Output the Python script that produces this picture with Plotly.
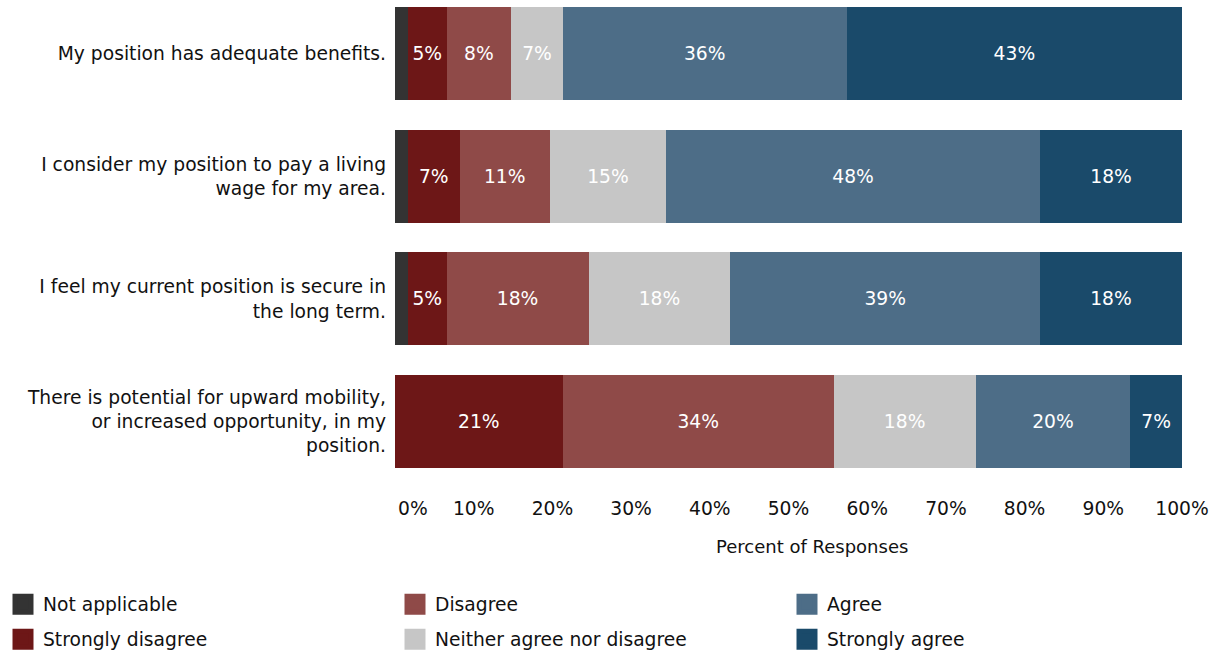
import plotly.graph_objects as go

# Survey statements (one bar each) and response shares in percent
statements = [
    "My position has adequate benefits.",
    "I consider my position to pay a living<br>wage for my area.",
    "I feel my current position is secure in<br>the long term.",
    "There is potential for upward mobility,<br>or increased opportunity, in my<br>position.",
]
not_applicable = [1.64, 1.64, 1.64, 0.0]
strongly_disagree = [4.92, 6.56, 4.92, 21.31]
disagree = [8.20, 11.48, 18.03, 34.43]
neither = [6.56, 14.75, 18.03, 18.03]
agree = [36.07, 47.54, 39.34, 19.67]
strongly_agree = [42.62, 18.03, 18.03, 6.56]

x_tick_vals = [0, 10, 20, 30, 40, 50, 60, 70, 80, 90, 100]
x_tick_text = ["\u00a0\u00a0\u00a0\u00a0\u00a0\u00a00%", "10%", "20%", "30%", "40%", "50%",
               "60%", "70%", "80%", "90%", "100%"]

FONT = "DejaVu Sans, sans-serif"
TEXT_COLOR = "#111111"
FS = 18.7

# name, values, colour, value labels shown, legend column, legend row
series = [
    ("Not applicable", not_applicable, "#333333", False, 0, 0),
    ("Strongly disagree", strongly_disagree, "#6d1717", True, 0, 1),
    ("Disagree", disagree, "#8f4a48", True, 1, 0),
    ("Neither agree nor disagree", neither, "#c6c6c6", True, 1, 1),
    ("Agree", agree, "#4d6d87", True, 2, 0),
    ("Strongly agree", strongly_agree, "#1a4a6a", True, 2, 1),
]

positions = list(range(len(statements)))

fig = go.Figure()
for name, values, color, labelled, _, _ in series:
    fig.add_trace(go.Bar(
        name=name,
        y=positions,
        x=values,
        orientation="h",
        marker=dict(color=color, line=dict(width=0)),
        texttemplate="%{x:.0f}%" if labelled else "",
        textposition="inside",
        insidetextanchor="middle",
        textangle=0,
        constraintext="none",
        textfont=dict(color="white", size=FS, family=FONT),
        showlegend=False,
        hoverinfo="skip",
    ))

# Legend: one small legend per entry, laid out in three columns and two rows
col_x = [3, 395, 787]
row_y = [604.5, 639.5]
legend_layouts = {}
for i, (name, _, color, _, col, row) in enumerate(series):
    legend_id = "legend" if i == 0 else f"legend{i + 1}"
    fig.add_trace(go.Scatter(
        name=name,
        x=[None],
        y=[None],
        mode="markers",
        marker=dict(symbol="square", size=16, color=color,
                    line=dict(color=color, width=5)),
        legend=legend_id,
        showlegend=True,
        hoverinfo="skip",
    ))
    legend_layouts[legend_id] = dict(
        orientation="h",
        xref="container",
        yref="container",
        x=col_x[col] / 1219,
        y=1 - row_y[row] / 658,
        xanchor="left",
        yanchor="middle",
        itemsizing="trace",
        font=dict(family=FONT, size=FS, color=TEXT_COLOR),
        bgcolor="rgba(0,0,0,0)",
        borderwidth=0,
    )

fig.update_layout(
    width=1219,
    height=658,
    barmode="stack",
    bargap=0.242,
    plot_bgcolor="white",
    paper_bgcolor="white",
    font=dict(family=FONT, size=FS, color=TEXT_COLOR),
    margin=dict(l=395, r=37, t=7, b=168),
    xaxis=dict(
        range=[0, 100],
        tickvals=x_tick_vals,
        ticktext=x_tick_text,
        showgrid=False,
        zeroline=False,
        showline=False,
        ticks="",
        ticklabelstandoff=5,
        tickfont=dict(family=FONT, size=FS, color=TEXT_COLOR),
        fixedrange=True,
    ),
    yaxis=dict(
        range=[3.557, -0.379],
        tickvals=positions,
        ticktext=statements,
        showgrid=False,
        zeroline=False,
        showline=False,
        ticks="",
        ticklabelstandoff=8,
        tickfont=dict(family=FONT, size=FS, color=TEXT_COLOR),
        fixedrange=True,
    ),
    annotations=[
        dict(
            text="Percent of Responses",
            xref="paper",
            yref="paper",
            x=0.53,
            y=-0.118,
            xanchor="center",
            yanchor="middle",
            showarrow=False,
            font=dict(family=FONT, size=18, color=TEXT_COLOR),
        )
    ],
    **legend_layouts,
)

fig.write_html("out.html")
